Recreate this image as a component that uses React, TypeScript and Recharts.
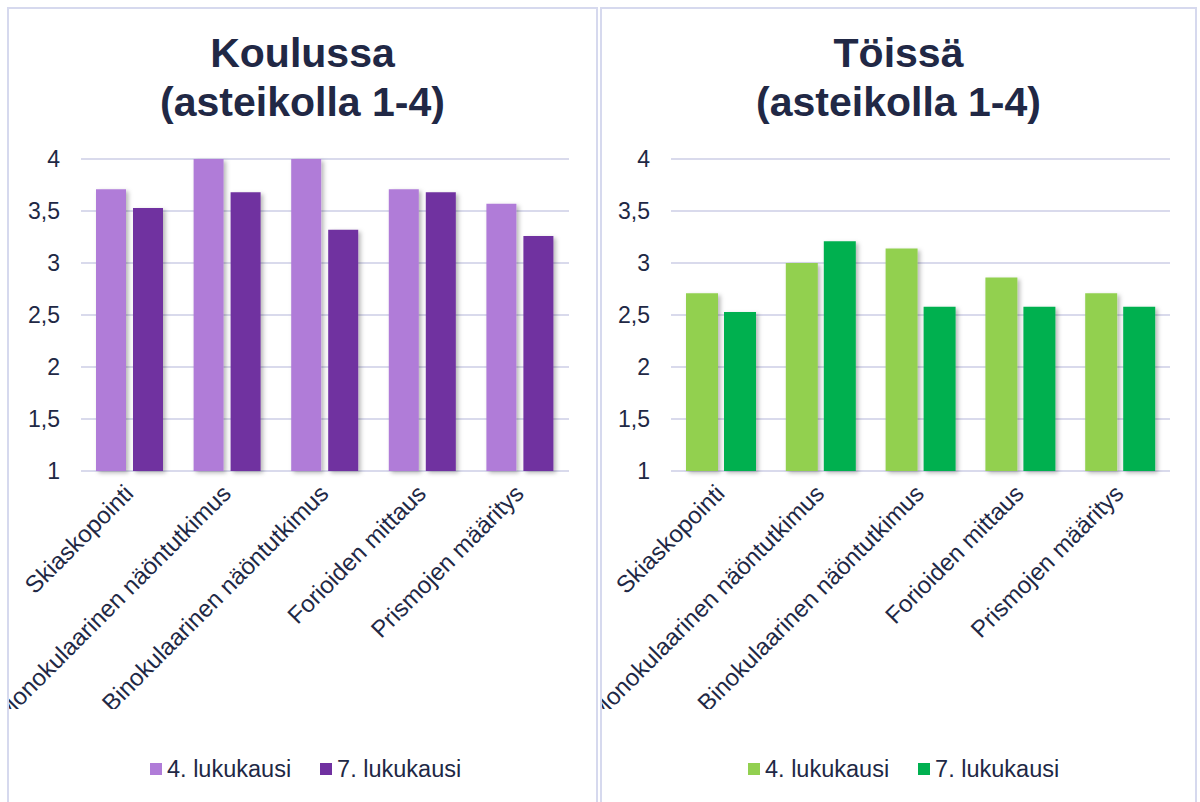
import React from 'react'
import { BarChart, Bar, XAxis, YAxis, CartesianGrid } from 'recharts'

const categories = [
  'Skiaskopointi',
  'Monokulaarinen näöntutkimus',
  'Binokulaarinen näöntutkimus',
  'Forioiden mittaus',
  'Prismojen määritys',
]
const seriesNames = ['4. lukukausi', '7. lukukausi']
const schoolSem4 = [3.71, 4, 4, 3.71, 3.57]
const schoolSem7 = [3.53, 3.68, 3.32, 3.68, 3.26]
const workSem4 = [2.71, 3.0, 3.14, 2.86, 2.71]
const workSem7 = [2.53, 3.21, 2.58, 2.58, 2.58]
const yTicks = [1, 1.5, 2, 2.5, 3, 3.5, 4]

const FONT = '"Liberation Sans", Arial, sans-serif'
const TEXT = '#212845'
const GRID = '#D9DAEC'
const BORDER = '#D6D9EE'

function buildRows(a: number[], b: number[]) {
  return categories.map((name, i) => ({ name, s4: a[i], s7: b[i] }))
}

function XTick(props: any) {
  const { x, y, payload } = props
  const ax = x + 5
  const ay = y + 16
  return (
    <text
      x={ax}
      y={ay}
      transform={`rotate(-45, ${ax}, ${ay})`}
      textAnchor="end"
      fill={TEXT}
      fontSize={24}
      fontFamily={FONT}
    >
      {payload.value}
    </text>
  )
}

interface PanelProps {
  left: number
  width: number
  titleTop: string
  data: { name: string; s4: number; s7: number }[]
  colors: [string, string]
  marginLeft: number
  marginRight: number
  barSize: number
  barGap: number
  legendLeft: number
  id: string
}

function Panel(p: PanelProps) {
  const inner = p.width - 4
  return (
    <div style={{ ...s.panel, left: p.left, width: p.width }}>
      <div style={{ ...s.title, width: inner }}>
        <div>{p.titleTop}</div>
        <div>(asteikolla 1-4)</div>
      </div>
      <div style={{ position: 'absolute', left: 0, top: 0 }}>
        <BarChart
          width={inner}
          height={700}
          data={p.data}
          barSize={p.barSize}
          barGap={p.barGap}
          margin={{ top: 150, right: p.marginRight, bottom: 0, left: p.marginLeft }}
        >
          <defs>
            <filter id={`sh-${p.id}`} x="-20%" y="-5%" width="150%" height="115%">
              <feDropShadow dx="2.5" dy="2" stdDeviation="2" floodColor="#000" floodOpacity="0.28" />
            </filter>
          </defs>
          <CartesianGrid vertical={false} stroke={GRID} strokeWidth={2} />
          <XAxis
            dataKey="name"
            axisLine={false}
            tickLine={false}
            interval={0}
            height={238}
            tick={<XTick />}
          />
          <YAxis
            domain={[1, 4]}
            ticks={yTicks}
            width={60}
            axisLine={false}
            tickLine={false}
            tickSize={6}
            tickMargin={15}
            tick={{ fill: TEXT, fontSize: 23, fontFamily: FONT }}
            tickFormatter={(v: number) => String(v).replace('.', ',')}
          />
          <Bar dataKey="s4" name={seriesNames[0]} fill={p.colors[0]} filter={`url(#sh-${p.id})`} isAnimationActive={false} />
          <Bar dataKey="s7" name={seriesNames[1]} fill={p.colors[1]} filter={`url(#sh-${p.id})`} isAnimationActive={false} />
        </BarChart>
      </div>
      <div style={{ ...s.legend, left: p.legendLeft }}>
        {seriesNames.map((n, i) => (
          <div key={n} style={s.legendItem}>
            <span style={{ ...s.swatch, background: p.colors[i] }} />
            <span>{n}</span>
          </div>
        ))}
      </div>
    </div>
  )
}

export default function App() {
  return (
    <div style={s.page}>
      <Panel
        id="school"
        left={7}
        width={591}
        titleTop="Koulussa"
        data={buildRows(schoolSem4, schoolSem7)}
        colors={['#B07CD8', '#7030A0']}
        marginLeft={12}
        marginRight={27}
        barSize={30}
        barGap={7}
        legendLeft={141}
      />
      <Panel
        id="work"
        left={600}
        width={597}
        titleTop="Töissä"
        data={buildRows(workSem4, workSem7)}
        colors={['#92D050', '#00B050']}
        marginLeft={9}
        marginRight={25}
        barSize={32}
        barGap={6}
        legendLeft={146}
      />
    </div>
  )
}

const s: Record<string, React.CSSProperties> = {
  page: {
    position: 'absolute',
    left: 0,
    top: 0,
    width: 1200,
    height: 802,
    overflow: 'hidden',
    background: '#fff',
    fontFamily: FONT,
  },
  panel: {
    position: 'absolute',
    top: 7,
    height: 795,
    boxSizing: 'border-box',
    border: `2px solid ${BORDER}`,
    borderBottom: 'none',
    overflow: 'hidden',
    background: '#fff',
  },
  title: {
    position: 'absolute',
    left: 0,
    top: 20,
    textAlign: 'center',
    fontWeight: 'bold',
    fontSize: 41,
    lineHeight: '49px',
    color: TEXT,
    zIndex: 1,
  },
  legend: {
    position: 'absolute',
    top: 747,
    display: 'flex',
    gap: 29,
    fontSize: 23.5,
    lineHeight: '26px',
    color: TEXT,
    whiteSpace: 'nowrap',
  },
  legendItem: { display: 'flex', alignItems: 'center', gap: 5 },
  swatch: { width: 12, height: 12, display: 'inline-block' },
}
